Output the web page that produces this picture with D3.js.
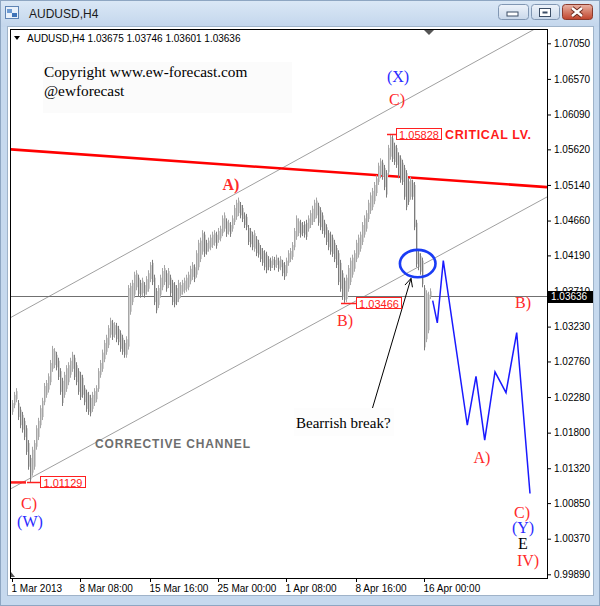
<!DOCTYPE html>
<html><head><meta charset="utf-8">
<script src="https://cdn.jsdelivr.net/npm/d3@7"></script>
<style>
html,body{margin:0;padding:0;background:#fff;}
svg{display:block;}
</style></head><body>
<svg id="c" width="600" height="606" font-family="Liberation Sans, Arial, sans-serif"></svg>
<script>
// ---------- data ----------
const barHigh = [1.0224,1.0235,1.0240,1.0224,1.0215,1.0208,1.0200,1.0190,1.0170,1.0150,
1.0161,1.0170,1.0190,1.0200,1.0217,1.0227,1.0247,1.0251,1.0260,1.0278,
1.0297,1.0294,1.0289,1.0281,1.0267,1.0254,1.0262,1.0271,1.0275,1.0281,
1.0289,1.0285,1.0275,1.0267,1.0262,1.0258,1.0244,1.0238,1.0235,1.0231,
1.0235,1.0240,1.0244,1.0267,1.0278,1.0292,1.0305,1.0312,1.0325,1.0335,
1.0332,1.0329,1.0328,1.0324,1.0318,1.0312,1.0305,1.0310,1.0379,1.0382,
1.0386,1.0397,1.0399,1.0393,1.0386,1.0389,1.0383,1.0391,1.0399,1.0410,
1.0413,1.0393,1.0375,1.0379,1.0393,1.0402,1.0406,1.0399,1.0402,1.0393,
1.0386,1.0383,1.0379,1.0386,1.0383,1.0386,1.0389,1.0393,1.0397,1.0405,
1.0410,1.0407,1.0426,1.0440,1.0443,1.0453,1.0451,1.0440,1.0443,1.0447,
1.0451,1.0453,1.0451,1.0456,1.0459,1.0473,1.0477,1.0469,1.0467,1.0464,
1.0473,1.0487,1.0494,1.0497,1.0491,1.0487,1.0477,1.0475,1.0460,1.0456,
1.0451,1.0453,1.0445,1.0440,1.0433,1.0429,1.0426,1.0424,1.0418,1.0416,
1.0418,1.0417,1.0420,1.0416,1.0418,1.0413,1.0410,1.0416,1.0426,1.0429,
1.0437,1.0456,1.0473,1.0469,1.0467,1.0464,1.0465,1.0467,1.0473,1.0480,
1.0486,1.0494,1.0497,1.0490,1.0484,1.0477,1.0467,1.0461,1.0453,1.0451,
1.0447,1.0440,1.0433,1.0426,1.0413,1.0399,1.0389,1.0393,1.0406,1.0416,
1.0420,1.0426,1.0440,1.0447,1.0451,1.0464,1.0473,1.0480,1.0494,1.0504,
1.0510,1.0518,1.0527,1.0544,1.0550,1.0548,1.0541,1.0534,1.0568,1.05828,
1.0581,1.0571,1.0568,1.0558,1.0554,1.0548,1.0541,1.0534,1.0523,1.0525,
1.0521,1.0518,1.0467,1.0426,1.0422,1.0416,1.0379,1.0372,1.0370,1.03746];
const barLow = [1.0204,1.0213,1.0221,1.0197,1.0186,1.0180,1.0170,1.0150,1.0130,1.01129,
1.0122,1.0130,1.0157,1.0170,1.0186,1.0197,1.0217,1.0227,1.0234,1.0244,
1.0262,1.0267,1.0264,1.0251,1.0231,1.0216,1.0227,1.0235,1.0244,1.0254,
1.0262,1.0251,1.0244,1.0231,1.0224,1.0227,1.0217,1.0208,1.0204,1.0202,
1.0208,1.0216,1.0221,1.0235,1.0254,1.0262,1.0275,1.0285,1.0294,1.0308,
1.0305,1.0308,1.0302,1.0298,1.0289,1.0285,1.0281,1.0281,1.0292,1.0339,
1.0352,1.0362,1.0372,1.0363,1.0362,1.0364,1.0362,1.0366,1.0370,1.0383,
1.0379,1.0352,1.0341,1.0348,1.0362,1.0372,1.0379,1.0370,1.0375,1.0364,
1.0352,1.0349,1.0352,1.0356,1.0362,1.0366,1.0368,1.0370,1.0372,1.0380,
1.0386,1.0383,1.0389,1.0399,1.0410,1.0420,1.0417,1.0420,1.0424,1.0426,
1.0429,1.0432,1.0428,1.0436,1.0438,1.0445,1.0451,1.0444,1.0447,1.0444,
1.0451,1.0460,1.0467,1.0472,1.0469,1.0464,1.0456,1.0453,1.0433,1.0430,
1.0426,1.0424,1.0418,1.0416,1.0410,1.0405,1.0399,1.0395,1.0399,1.0398,
1.0402,1.0399,1.0402,1.0397,1.0399,1.0391,1.0386,1.0391,1.0405,1.0410,
1.0413,1.0426,1.0440,1.0445,1.0443,1.0445,1.0443,1.0440,1.0451,1.0456,
1.0460,1.0464,1.0469,1.0459,1.0453,1.0448,1.0443,1.0433,1.0426,1.0420,
1.0417,1.0410,1.0402,1.0379,1.0370,1.0359,1.0355,1.0356,1.0370,1.0379,
1.0389,1.0397,1.0410,1.0416,1.0424,1.0433,1.0443,1.0451,1.0464,1.0475,
1.0480,1.0488,1.0499,1.0514,1.0523,1.0521,1.0507,1.0497,1.0527,1.0548,
1.0545,1.0541,1.0537,1.0523,1.0517,1.0514,1.0494,1.0480,1.0487,1.0494,
1.0494,1.0453,1.0403,1.0399,1.0393,1.0376,1.0291,1.0302,1.0314,1.03601];

const priceTicks = [1.07050,1.06570,1.06090,1.05620,1.05140,1.04660,1.04190,1.03710,1.03230,1.02760,1.02280,1.01800,1.01320,1.00850,1.00370,0.99890];
const timeTickIndex = [0,34,69,103,137,172,206];
const timeTickLabels = ["1 Mar 2013","8 Mar 08:00","15 Mar 16:00","25 Mar 00:00","1 Apr 08:00","8 Apr 16:00","16 Apr 00:00"];
const lastOHLC = [1.03675,1.03746,1.03601,1.03636];
const currentPrice = 1.03636;

const forecastIndex = [210.35,212.65,215.65,227.65,232,236.35,241.5,247,252.35,259];
const forecastPrice = [1.0358,1.0328,1.0412,1.0190,1.0256,1.0170,1.0262,1.0234,1.0315,1.0098];

const channelUpper = [[-0.15,1.0336],[144,1.0550]];
const channelLower = [[-0.15,1.0105],[254,1.0478]];
const criticalLine = [[-1,1.0562],[267.5,1.0511]];

const markLabels = ["1.05828","1.03466","1.01129"];
const markBar = [189,166,9];
const markPrice = [1.05828,1.0355,1.01129];

const waveText  = ["(X)","C)","A)","B)","B)","A)","C)","(Y)","E","IV)","C)","(W)"];
const waveIndex = [193,192.5,109.5,166.5,255.5,235,255,255.5,255.5,258,8.5,9];
const wavePrice = [1.0661,1.0629,1.0515,1.0331,1.0355,1.0146,1.0073,1.0052,1.0031,1.0008,1.0085,1.0060];
const waveDegree = ["major","minor","minor","minor","minor","minor","minor","major","note","minor","minor","major"];

const breakCircle = [202.85,1.0408];
const breakArrow = [[180,1.0211],[199.5,1.0388]];

// ---------- layout ----------
const SERIF = "Liberation Serif, 'Times New Roman', serif";
const svg = d3.select("#c");
const plot = {l:10, r:547, t:29, b:578};
const x = d3.scaleLinear().domain([0,209]).range([12,430]);
const y = d3.scaleLinear().domain([0.99890,1.07050]).range([574.3,43.3]);

// window frame
const defs = svg.append("defs");
const tg = defs.append("linearGradient").attr("id","tg").attr("x1",0).attr("x2",0).attr("y1",0).attr("y2",1);
tg.append("stop").attr("offset","0").attr("stop-color","#dbe8f6");
tg.append("stop").attr("offset","1").attr("stop-color","#c3d6ec");
const bg = defs.append("linearGradient").attr("id","bg").attr("x1",0).attr("x2",0).attr("y1",0).attr("y2",1);
bg.append("stop").attr("offset","0").attr("stop-color","#eef3fa");
bg.append("stop").attr("offset","1").attr("stop-color","#c9d8ea");
const rg = defs.append("linearGradient").attr("id","rg").attr("x1",0).attr("x2",0).attr("y1",0).attr("y2",1);
rg.append("stop").attr("offset","0").attr("stop-color","#eab4a6");
rg.append("stop").attr("offset","0.5").attr("stop-color","#d47a66");
rg.append("stop").attr("offset","1").attr("stop-color","#c0432c");
defs.append("clipPath").attr("id","clip").append("rect")
  .attr("x",plot.l+1).attr("y",plot.t+1).attr("width",plot.r-plot.l-1).attr("height",plot.b-plot.t-1);

svg.append("rect").attr("x",0).attr("y",0).attr("width",600).attr("height",606).attr("fill","#c6d9ee");
svg.append("rect").attr("x",0).attr("y",0).attr("width",600).attr("height",27).attr("fill","url(#tg)");
svg.append("rect").attr("x",0.5).attr("y",0.5).attr("width",599).attr("height",605).attr("fill","none").attr("stroke","#8ea6c2");
svg.append("rect").attr("x",7.5).attr("y",26.5).attr("width",586).attr("height",569).attr("fill","#fff").attr("stroke","#9fb3c9");

// title icon
svg.append("rect").attr("x",5.5).attr("y",6.5).attr("width",13).attr("height",12).attr("fill","#e9f1fb").attr("stroke","#5f84b4");
svg.append("rect").attr("x",7).attr("y",9).attr("width",5).attr("height",4).attr("fill","#6d9bd3");
svg.append("rect").attr("x",12).attr("y",13).attr("width",5).attr("height",4).attr("fill","#3f74b8");
svg.append("text").attr("x",29).attr("y",18).attr("font-size",12).attr("fill","#1b1b1b").text("AUDUSD,H4");

// buttons
[[498,30,"min"],[531,28,"max"],[562,30,"close"]].forEach(([bx,bw,k])=>{
  svg.append("rect").attr("x",bx+0.5).attr("y",4.5).attr("width",bw).attr("height",15).attr("rx",3)
    .attr("fill",k==="close"?"url(#rg)":"url(#bg)").attr("stroke",k==="close"?"#8a3a2c":"#8197b3");
});
svg.append("rect").attr("x",507).attr("y",12).attr("width",11).attr("height",4).attr("fill","#fff").attr("stroke","#3c4e66");
svg.append("rect").attr("x",539.5).attr("y",8.5).attr("width",11).attr("height",8).attr("fill","#fff").attr("stroke","#3c4e66").attr("stroke-width",1);
svg.append("rect").attr("x",542.5).attr("y",11.5).attr("width",5).attr("height",2).attr("fill","#3c4e66");
svg.append("path").attr("d","M572,8 L582,16 M582,8 L572,16").attr("stroke","#6b2a1e").attr("stroke-width",4.2);
svg.append("path").attr("d","M572,8 L582,16 M582,8 L572,16").attr("stroke","#fff").attr("stroke-width",2.4);

// plot border
svg.append("rect").attr("x",plot.l+0.5).attr("y",plot.t+0.5).attr("width",plot.r-plot.l).attr("height",plot.b-plot.t)
  .attr("fill","none").attr("stroke","#000");

const g = svg.append("g").attr("clip-path","url(#clip)");

// copyright box
g.append("rect").attr("x",43).attr("y",62).attr("width",249).attr("height",51).attr("fill","#fbfbfb");
g.append("text").attr("x",44).attr("y",77).attr("font-family",SERIF).attr("font-size",15.3).attr("fill","#000").text("Copyright www.ew-forecast.com");
g.append("text").attr("x",44).attr("y",96).attr("font-family",SERIF).attr("font-size",15.3).attr("fill","#000").text("@ewforecast");

// lines spanning chart
function fullLine(pts){
  const [a,b]=pts; const s=(b[1]-a[1])/(b[0]-a[0]);
  const i0=x.invert(plot.l), i1=x.invert(plot.r);
  return [[i0,a[1]+s*(i0-a[0])],[i1,a[1]+s*(i1-a[0])]];
}
const lineGen = d3.line().x(d=>x(d[0])).y(d=>y(d[1]));
g.append("path").attr("d",lineGen(fullLine(channelUpper))).attr("stroke","#a0a0a0").attr("fill","none");
g.append("path").attr("d",lineGen(fullLine(channelLower))).attr("stroke","#a0a0a0").attr("fill","none");
g.append("line").attr("x1",plot.l).attr("x2",plot.r).attr("y1",Math.round(y(currentPrice))+0.5).attr("y2",Math.round(y(currentPrice))+0.5).attr("stroke","#707070");
g.append("path").attr("d",lineGen(fullLine(criticalLine))).attr("stroke","#ff0000").attr("stroke-width",2.6).attr("fill","none");

// bars
const idx = d3.range(barHigh.length);
const mid = i=>(barHigh[i]+barLow[i])/2;
g.selectAll("rect.bar").data(idx).join("rect").attr("class","bar")
  .attr("x",i=>x(i)).attr("width",1)
  .attr("y",i=>y(barHigh[i])).attr("height",i=>Math.max(1,y(barLow[i])-y(barHigh[i])))
  .attr("fill",i=> (i>0 && mid(i)<mid(i-1)) ? "#7c7c7c" : "#a6a6a6");
g.selectAll("rect.bar2").data(idx).join("rect").attr("class","bar2")
  .attr("x",i=>x(i)+1).attr("width",1)
  .attr("y",i=>y(barHigh[i])+3).attr("height",i=>Math.max(1,y(barLow[i])-y(barHigh[i])-6))
  .attr("fill","#d2d2d2");

// forecast line
g.append("path").attr("d",d3.line().x(d=>x(d[0])).y(d=>y(d[1]))(forecastIndex.map((v,k)=>[v,forecastPrice[k]])))
  .attr("fill","none").attr("stroke","#1a1aff").attr("stroke-width",1.5);

// break circle
g.append("ellipse").attr("cx",x(breakCircle[0])).attr("cy",y(breakCircle[1]))
  .attr("rx",x(breakCircle[0]+8.9)-x(breakCircle[0])).attr("ry",y(breakCircle[1]-0.00185)-y(breakCircle[1]))
  .attr("fill","none").attr("stroke","#1a3cf5").attr("stroke-width",2.6);

// arrow
const [a0,a1] = breakArrow;
const ax0=x(a0[0]), ay0=y(a0[1]), ax1=x(a1[0]), ay1=y(a1[1]);
const ang = Math.atan2(ay1-ay0, ax1-ax0);
g.append("line").attr("x1",ax0).attr("y1",ay0).attr("x2",ax1).attr("y2",ay1).attr("stroke","#000");
g.append("path").attr("d",`M${ax1-9*Math.cos(ang-0.45)},${ay1-9*Math.sin(ang-0.45)} L${ax1},${ay1} L${ax1-9*Math.cos(ang+0.45)},${ay1-9*Math.sin(ang+0.45)}`)
  .attr("fill","none").attr("stroke","#000");
g.append("rect").attr("x",294).attr("y",408).attr("width",100).attr("height",28).attr("fill","#fdfdfd");
g.append("text").attr("x",296).attr("y",428).attr("font-family",SERIF).attr("font-size",15).attr("fill","#000").text("Bearrish break?");

// corrective channel label
g.append("text").attr("x",95).attr("y",447.5).attr("font-size",12).attr("font-weight","bold").attr("fill","#6e6e6e")
  .attr("textLength",155).attr("lengthAdjust","spacing").text("CORRECTIVE CHANNEL");

// price marks
markLabels.forEach((t,k)=>{
  const yy = Math.round(y(markPrice[k]));
  const bx = x(markBar[k])+ (k===0?6:(k===1?12:10));
  g.append("line").attr("x1",x(markBar[k])-3).attr("x2",bx).attr("y1",yy+0.5).attr("y2",yy+0.5).attr("stroke","#ff2020").attr("stroke-width",1.5);
  g.append("rect").attr("x",bx+0.5).attr("y",yy-5.5).attr("width",45).attr("height",11).attr("fill","#fff").attr("stroke","#ff2020");
  g.append("text").attr("x",bx+23).attr("y",yy+4.5).attr("text-anchor","middle").attr("font-size",11).attr("fill","#ff2020").text(t);
});
g.append("line").attr("x1",plot.l).attr("x2",x(7)).attr("y1",y(1.01129)).attr("y2",y(1.01129)).attr("stroke","#ff2020").attr("stroke-width",2.5);
g.append("text").attr("x",445).attr("y",139).attr("font-size",12.5).attr("font-weight","bold").attr("fill","#ff1a1a")
  .attr("textLength",86).attr("lengthAdjust","spacing").text("CRITICAL LV.");

// wave labels
const degColor = {major:"#2b2bff", minor:"#ff2a2a", note:"#000"};
waveText.forEach((t,k)=>{
  g.append("text").attr("x",x(waveIndex[k])).attr("y",y(wavePrice[k])).attr("dy","0.35em")
    .attr("text-anchor","middle").attr("font-family",SERIF).attr("font-size",16)
    .attr("font-weight", k===2 ? "bold":"normal")
    .attr("fill",degColor[waveDegree[k]]).text(t);
});

// info line
svg.append("path").attr("d","M14,36 L20,36 L17,40 Z").attr("fill","#000");
svg.append("text").attr("x",27).attr("y",42).attr("font-size",10).attr("fill","#000")
  .text("AUDUSD,H4  " + lastOHLC.map(d3.format(".5f")).join(" "));
// chart shift markers
svg.append("path").attr("d","M424,30 L434,30 L429,35 Z").attr("fill","#555");
svg.append("path").attr("d","M11,577 L11,572 L15,577 Z").attr("fill","#555");

// axes
const ya = svg.append("g").attr("transform",`translate(${plot.r},0)`)
  .call(d3.axisRight(y).tickValues(priceTicks).tickSize(4).tickPadding(3).tickFormat(d3.format(".5f")));
ya.select(".domain").remove();
ya.selectAll("text").attr("font-size",10).attr("font-family","Liberation Sans, Arial, sans-serif").attr("fill","#000");
ya.selectAll("line").attr("stroke","#000");

const xa = svg.append("g").attr("transform",`translate(0,${plot.b})`)
  .call(d3.axisBottom(x).tickValues(timeTickIndex).tickSize(4).tickPadding(3).tickFormat((d,k)=>timeTickLabels[k]));
xa.select(".domain").remove();
xa.selectAll("text").attr("font-size",10).attr("font-family","Liberation Sans, Arial, sans-serif").attr("fill","#000").attr("text-anchor","start").attr("x",-1);
xa.selectAll("line").attr("stroke","#000");

// current price tag
const cy = y(currentPrice);
svg.append("rect").attr("x",548).attr("y",cy-5.5).attr("width",45).attr("height",12).attr("fill","#000");
svg.append("text").attr("x",551).attr("y",cy+4).attr("font-size",10).attr("fill","#fff").text(d3.format(".5f")(currentPrice));
</script>
</body></html>
